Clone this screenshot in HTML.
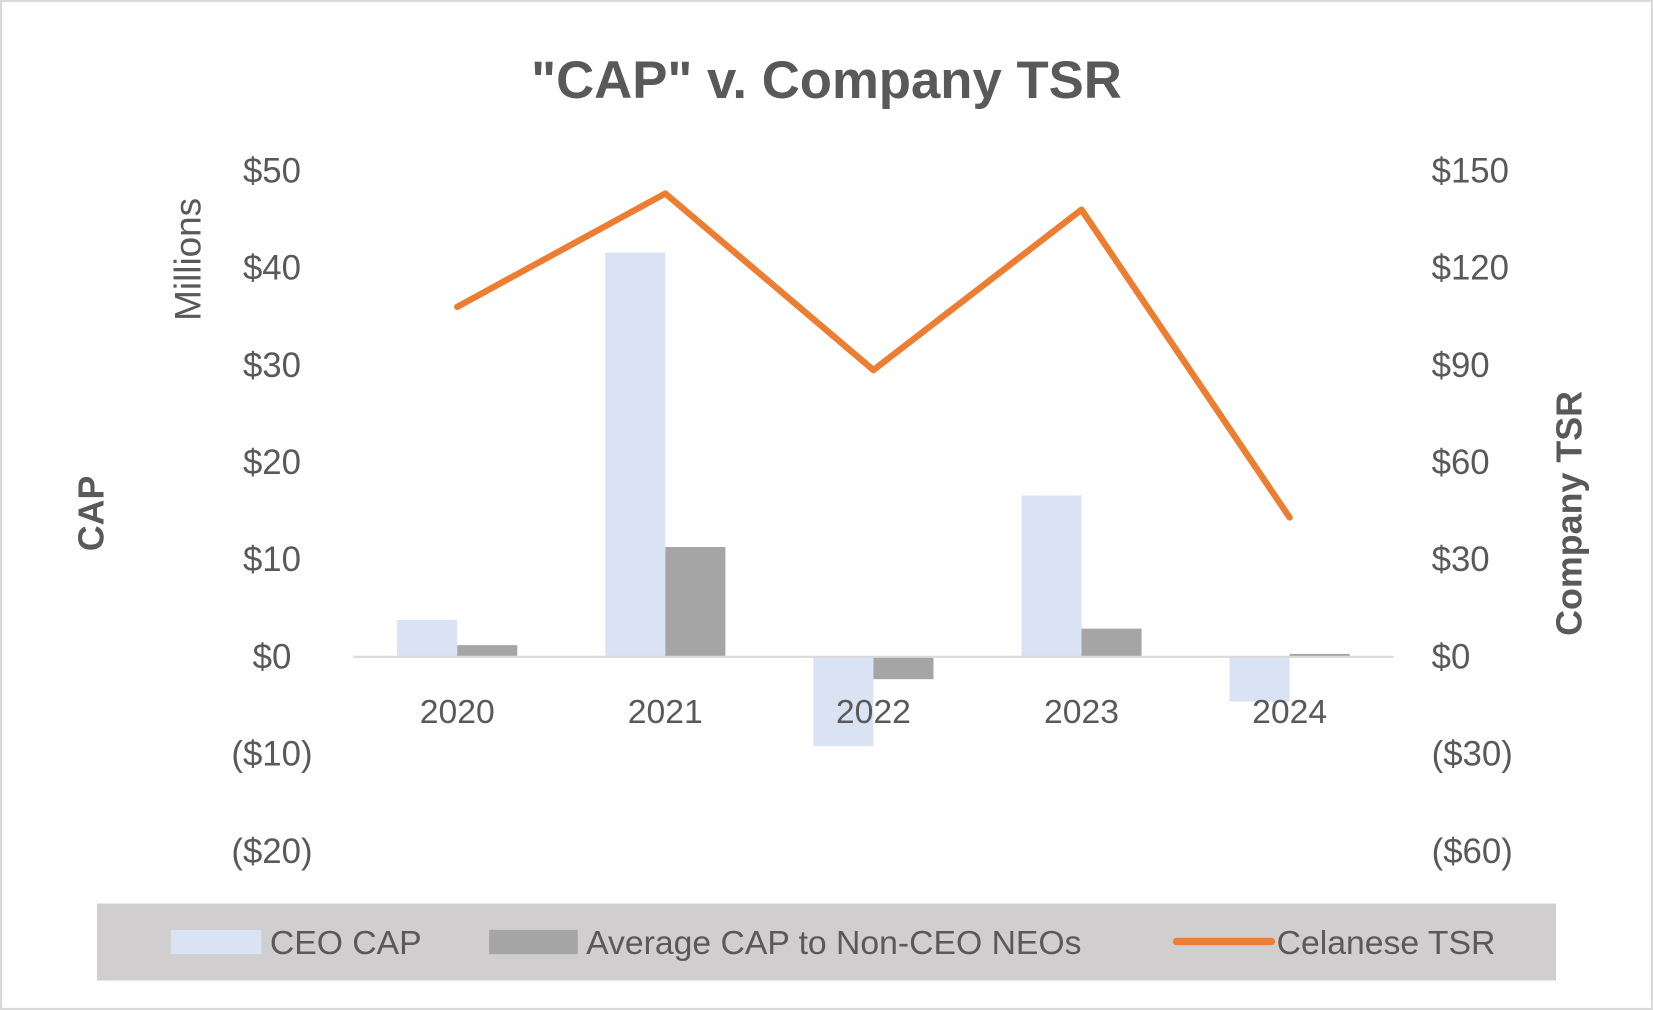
<!DOCTYPE html>
<html><head><meta charset="utf-8"><style>
html,body{margin:0;padding:0;background:#fff;}
svg{display:block;font-family:"Liberation Sans",sans-serif;}
</style></head><body>
<svg id="chart" width="1653" height="1010" viewBox="0 0 1568 958" preserveAspectRatio="none">
<rect x="1" y="1" width="1566" height="956" fill="#fff" stroke="#d9d9d9" stroke-width="2"/>
<text x="784" y="93" text-anchor="middle" font-size="50" font-weight="bold" fill="#595959">"CAP" v. Company TSR</text>
<text transform="translate(190,246) rotate(-90)" text-anchor="middle" font-size="35" fill="#595959">Millions</text>
<text transform="translate(98,487) rotate(-90)" text-anchor="middle" font-size="34" font-weight="bold" fill="#595959">CAP</text>
<text transform="translate(1500,487) rotate(-90)" text-anchor="middle" font-size="34" font-weight="bold" fill="#595959">Company TSR</text>
<g id="plot"></g>
<rect x="92" y="857" width="1384" height="73" fill="#d0cece"/>
<rect x="162" y="882" width="86" height="23" fill="#dae3f3"/>
<text x="256" y="905" font-size="32" fill="#595959">CEO CAP</text>
<rect x="464" y="882" width="84" height="23" fill="#a5a5a5"/>
<text x="556" y="905" font-size="32" fill="#595959">Average CAP to Non-CEO NEOs</text>
<line x1="1116" y1="893" x2="1206" y2="893" stroke="#ed7d31" stroke-width="7" stroke-linecap="round"/>
<text x="1211" y="905" font-size="32" fill="#595959">Celanese TSR</text>
</svg>
<script>
const categories=["2020","2021","2022","2023","2024"];
const ceoCap=[3.8,41.6,-9.2,16.6,-4.6];
const avgCap=[1.2,11.3,-2.3,2.9,0.3];
const tsr=[108,143,88.5,138,43];
const leftTicks=[50,40,30,20,10,0,-10,-20];
const leftTickLabels=["$50","$40","$30","$20","$10","$0","($10)","($20)"];
const rightTicks=[150,120,90,60,30,0,-30,-60];
const rightTickLabels=["$150","$120","$90","$60","$30","$0","($30)","($60)"];

const NS="http://www.w3.org/2000/svg";
const g=document.getElementById('plot');
const x0=335,x1=1322,zeroY=623,pxPerL=461/50,pxPerR=461/150;
const yL=v=>zeroY-v*pxPerL;
const yR=v=>zeroY-v*pxPerR;
const band=(x1-x0)/categories.length;
const xC=i=>x0+band*(i+0.5);
function mk(t,a){const e=document.createElementNS(NS,t);for(const k in a)e.setAttribute(k,a[k]);g.appendChild(e);return e;}
leftTicks.forEach((v,i)=>{const e=mk('text',{x:258,y:yL(v)+11,'text-anchor':'middle','font-size':33,fill:'#595959'});e.textContent=leftTickLabels[i];

});
rightTicks.forEach((v,i)=>{const e=mk('text',{x:1358,y:yR(v)+11,'font-size':33,fill:'#595959'});e.textContent=rightTickLabels[i];

});
const bw=57;
categories.forEach((c,i)=>{
 const cx=xC(i);
 let v=ceoCap[i];
 const b1=mk('rect',{x:cx-bw,y:Math.min(yL(v),zeroY),width:bw,height:Math.abs(yL(v)-zeroY),fill:'#dae3f3'});
 
 
 v=avgCap[i];
 const b2=mk('rect',{x:cx,y:Math.min(yL(v),zeroY),width:bw,height:Math.abs(yL(v)-zeroY),fill:'#a5a5a5'});
 
 
});
const ax=mk('line',{x1:x0,x2:x1,y1:zeroY,y2:zeroY,stroke:'#d9d9d9','stroke-width':2});


categories.forEach((c,i)=>{const e=mk('text',{x:xC(i),y:686,'text-anchor':'middle','font-size':32,fill:'#595959'});e.textContent=c;

});
const ln=mk('polyline',{points:tsr.map((v,i)=>xC(i)+','+yR(v)).join(' '),fill:'none',stroke:'#ed7d31','stroke-width':6,'stroke-linecap':'round','stroke-linejoin':'round'});


</script>
</body></html>
